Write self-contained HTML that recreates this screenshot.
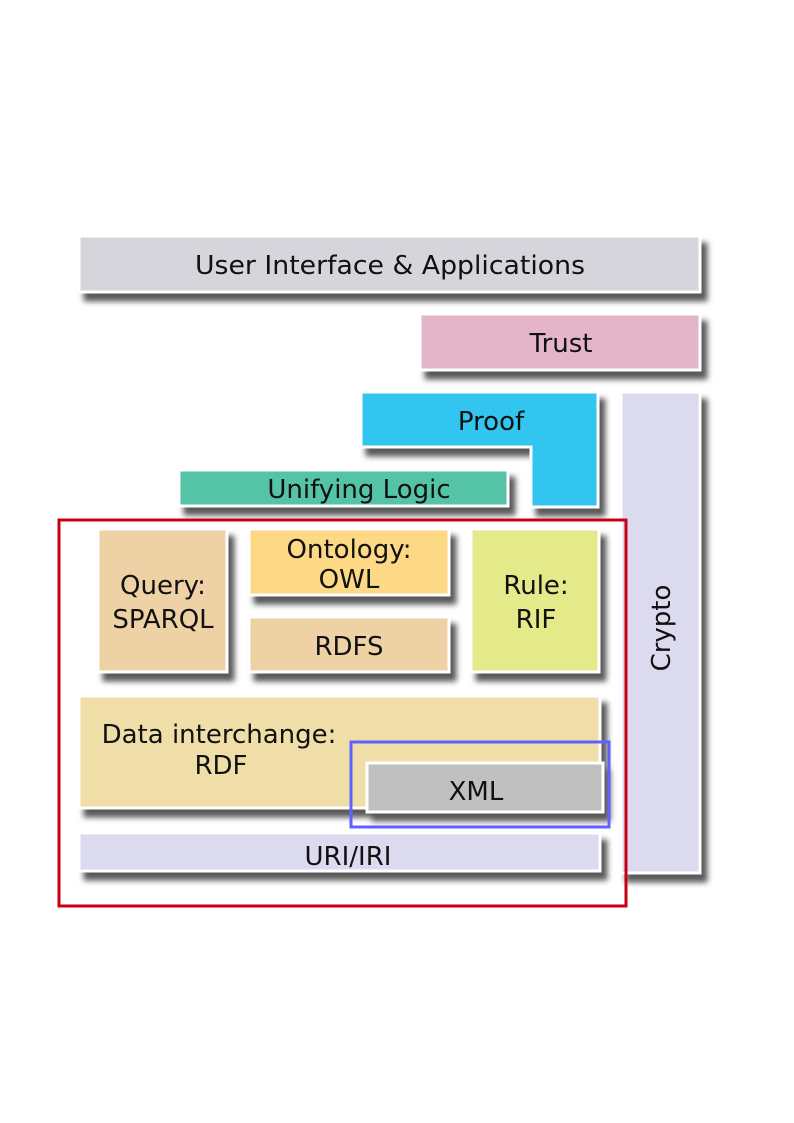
<!DOCTYPE html>
<html><head><meta charset="utf-8"><style>
html,body{margin:0;padding:0;background:#fff;}
svg{display:block}
text{font-family:"DejaVu Sans","Liberation Sans",sans-serif;font-size:26px;fill:#111;text-anchor:middle}
</style></head><body>
<svg width="794" height="1123" viewBox="0 0 794 1123" xmlns="http://www.w3.org/2000/svg">
<defs>
<filter id="sh" x="-10%" y="-10%" width="130%" height="140%">
<feDropShadow dx="6" dy="8" stdDeviation="3" flood-color="#000" flood-opacity="0.65"/>
</filter>
</defs>
<g filter="url(#sh)" stroke="#fff" stroke-width="3">
<rect x="79" y="236" width="621" height="56" fill="#d6d5db"/>
<rect x="420" y="314" width="280" height="56" fill="#e4b4c8"/>
<rect x="621" y="392" width="79" height="481" fill="#dcdaee"/>
<path d="M361 392 H598 V507 H531 V447 H361 Z" fill="#31c5ef"/>
<rect x="179" y="470" width="329" height="36" fill="#54c4a6"/>
<rect x="98" y="529" width="129" height="143" fill="#eed2a6"/>
<rect x="249" y="529" width="200" height="66" fill="#fdd985"/>
<rect x="249" y="617" width="200" height="55" fill="#eed2a6"/>
<rect x="471" y="529" width="128" height="143" fill="#e4ea8a"/>
<rect x="79" y="696" width="521" height="112" fill="#f0dea8"/>
<rect x="79" y="833" width="521" height="38" fill="#dcdaee"/>
<rect x="367" y="763" width="236" height="49" fill="#c0c0c0"/>
</g>
<rect x="59" y="520" width="567" height="386" fill="none" stroke="#c80014" stroke-width="3"/>
<rect x="351" y="742" width="258" height="85" fill="none" stroke="#6060ff" stroke-width="3"/>
<g textLength="">
<text x="390" y="274" textLength="390" lengthAdjust="spacingAndGlyphs">User Interface &amp; Applications</text>
<text x="561" y="352">Trust</text>
<text x="491" y="430">Proof</text>
<text x="359" y="498">Unifying Logic</text>
<text x="163" y="594">Query:</text>
<text x="163" y="628">SPARQL</text>
<text x="349" y="558">Ontology:</text>
<text x="349" y="588">OWL</text>
<text x="349" y="655">RDFS</text>
<text x="536" y="594">Rule:</text>
<text x="536" y="628">RIF</text>
<text x="219" y="743">Data interchange:</text>
<text x="221" y="774">RDF</text>
<text x="476" y="800">XML</text>
<text x="348" y="865">URI/IRI</text>
<text transform="translate(670,628) rotate(-90)">Crypto</text>
</g>
</svg>
</body></html>
